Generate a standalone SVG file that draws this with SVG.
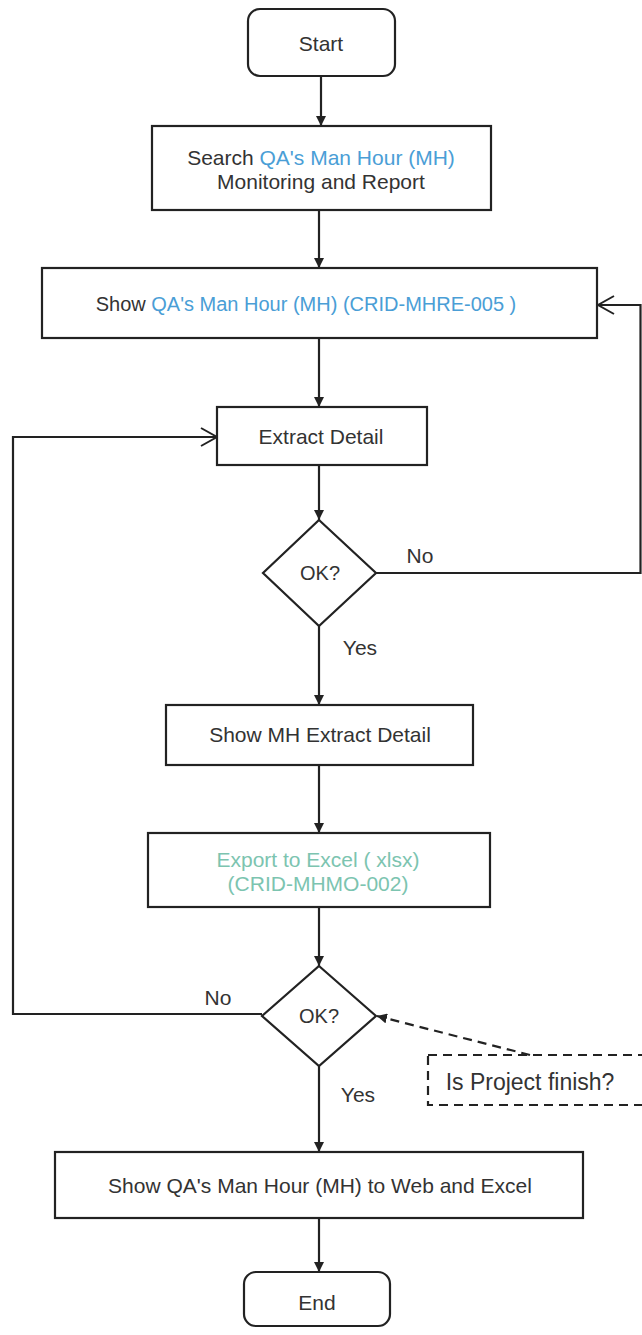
<svg xmlns="http://www.w3.org/2000/svg" width="642" height="1335" viewBox="0 0 642 1335">
  <defs>
    <marker id="tri" viewBox="0 0 10 10" refX="10" refY="5" markerWidth="10" markerHeight="10" markerUnits="userSpaceOnUse" orient="auto">
      <path d="M0,0 L10,5 L0,10 Z" fill="#222"/>
    </marker>
    <marker id="open" viewBox="0 0 20 20" refX="18" refY="10" markerWidth="20" markerHeight="20" markerUnits="userSpaceOnUse" orient="auto">
      <path d="M2,1 L18,10 L2,19" fill="none" stroke="#222" stroke-width="2"/>
    </marker>
  </defs>
  <style>
    .box { fill: #fff; stroke: #222; stroke-width: 2.2; }
    .line { fill: none; stroke: #222; stroke-width: 2.2; }
    .dash { fill: none; stroke: #222; stroke-width: 2.2; stroke-dasharray: 9 6; }
    text { font-family: "Liberation Sans", Arial, sans-serif; font-size: 21px; fill: #333; text-anchor: middle; }
    .blue { fill: #4a9ed6; }
    .teal { fill: #7cc4b0; }
    .s20 { font-size: 20px; }
    .s23 { font-size: 23px; }
  </style>
  <rect width="642" height="1335" fill="#fff"/>

  <!-- connectors -->
  <g id="connectors">
    <line class="line" x1="321" y1="76" x2="321" y2="126" marker-end="url(#tri)"/>
    <line class="line" x1="319" y1="210" x2="319" y2="268" marker-end="url(#tri)"/>
    <line class="line" x1="319" y1="338" x2="319" y2="407" marker-end="url(#tri)"/>
    <line class="line" x1="319" y1="465" x2="319" y2="520" marker-end="url(#tri)"/>
    <line class="line" x1="319" y1="626" x2="319" y2="705" marker-end="url(#tri)"/>
    <line class="line" x1="319" y1="765" x2="319" y2="833" marker-end="url(#tri)"/>
    <line class="line" x1="319" y1="907" x2="319" y2="966" marker-end="url(#tri)"/>
    <line class="line" x1="319" y1="1066" x2="319" y2="1152" marker-end="url(#tri)"/>
    <line class="line" x1="319" y1="1218" x2="319" y2="1272" marker-end="url(#tri)"/>
    <!-- OK? No: back to Show -->
    <path class="line" d="M376,573 H640.5 V305 H598" marker-end="url(#open)"/>
    <!-- OK? No: back to Extract Detail -->
    <path class="line" d="M262,1014 H13 V437 H217" marker-end="url(#open)"/>
    <!-- dashed hint -->
    <line class="dash" x1="530" y1="1055" x2="377" y2="1016" marker-end="url(#tri)"/>
    <text x="420" y="563">No</text>
    <text x="360" y="655">Yes</text>
    <text x="218" y="1005">No</text>
    <text x="358" y="1102">Yes</text>
  </g>

  <g id="start">
    <rect class="box" x="248" y="9" width="147" height="67" rx="12"/>
    <text x="321" y="51">Start</text>
  </g>

  <g id="search">
    <rect class="box" x="152" y="126" width="339" height="84"/>
    <text x="321" y="165">Search <tspan class="blue">QA's Man Hour (MH)</tspan></text>
    <text x="321" y="189">Monitoring and Report</text>
  </g>

  <g id="show">
    <rect class="box" x="42" y="268" width="555" height="70"/>
    <text class="s20" x="306" y="311">Show <tspan class="blue">QA's Man Hour (MH) (CRID-MHRE-005  )</tspan></text>
  </g>

  <g id="extract">
    <rect class="box" x="217" y="407" width="210" height="58"/>
    <text x="321" y="444">Extract Detail</text>
  </g>

  <g id="ok1">
    <polygon class="box" points="319,520 376,573 319,626 263,573"/>
    <text class="s20" x="320" y="580">OK?</text>
  </g>

  <g id="show-mh">
    <rect class="box" x="166" y="705" width="307" height="60"/>
    <text x="320" y="742">Show MH Extract Detail</text>
  </g>

  <g id="export">
    <rect class="box" x="148" y="833" width="342" height="74"/>
    <text class="teal" x="318" y="867">Export to Excel ( xlsx)</text>
    <text class="teal" x="318" y="891">(CRID-MHMO-002)</text>
  </g>

  <g id="ok2">
    <polygon class="box" points="319,966 376,1016 319,1066 262,1016"/>
    <text class="s20" x="319" y="1023">OK?</text>
  </g>

  <g id="project-note">
    <rect class="dash" x="428" y="1055" width="240" height="50"/>
    <text class="s23" x="530" y="1090">Is Project finish?</text>
  </g>

  <g id="show-final">
    <rect class="box" x="55" y="1152" width="528" height="66"/>
    <text x="320" y="1193">Show QA's Man Hour (MH) to Web and Excel</text>
  </g>

  <g id="end">
    <rect class="box" x="244" y="1272" width="146" height="54" rx="12"/>
    <text x="317" y="1310">End</text>
  </g>
</svg>
